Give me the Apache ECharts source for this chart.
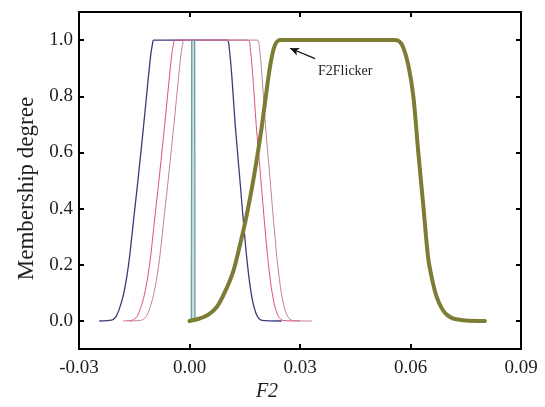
<!DOCTYPE html>
<html>
<head>
<meta charset="utf-8">
<script src="https://cdn.jsdelivr.net/npm/echarts@6/dist/echarts.min.js"></script>
<style>
  html, body { margin: 0; padding: 0; background: #fff; }
  #chart { width: 545px; height: 407px; }
</style>
</head>
<body>
<div id="chart"></div>
<script>
// Membership functions of the F2 feature (x = F2 value, y = membership degree)

// Dark blue set centred on zero
const blueX = [-0.0245, -0.0212, -0.0200, -0.0190, -0.0180, -0.0170, -0.0162, -0.0151, -0.0140, -0.0125, -0.0113, -0.0105, -0.0100, -0.0098,
               0.0102, 0.0108, 0.0115, 0.0124, 0.0137, 0.0146, 0.0155, 0.0165, 0.0175, 0.0185, 0.0197, 0.0250];
const blueY = [0, 0.003, 0.015, 0.045, 0.09, 0.16, 0.236, 0.37, 0.50, 0.69, 0.85, 0.95, 0.99, 1,
               1, 0.97, 0.87, 0.70, 0.50, 0.36, 0.23, 0.12, 0.05, 0.015, 0.002, 0];

// Pink set
const pinkX = [-0.0180, -0.0155, -0.0143, -0.0133, -0.0123, -0.0113, -0.0105, -0.0094, -0.0083, -0.0068, -0.0056, -0.0048, -0.0043, -0.0041,
               0.0159, 0.0165, 0.0172, 0.0181, 0.0194, 0.0203, 0.0212, 0.0222, 0.0232, 0.0242, 0.0254, 0.0300];
const pinkY = [0, 0.003, 0.015, 0.045, 0.09, 0.16, 0.236, 0.37, 0.50, 0.69, 0.85, 0.95, 0.99, 1,
               1, 0.97, 0.87, 0.70, 0.50, 0.36, 0.23, 0.12, 0.05, 0.015, 0.002, 0];

// Mauve set
const mauveX = [-0.0165, -0.0130, -0.0118, -0.0108, -0.0098, -0.0088, -0.0080, -0.0069, -0.0058, -0.0043, -0.0031, -0.0023, -0.0018, -0.0016,
                0.0184, 0.0190, 0.0197, 0.0206, 0.0219, 0.0228, 0.0237, 0.0247, 0.0257, 0.0267, 0.0279, 0.0333];
const mauveY = [0, 0.003, 0.015, 0.045, 0.09, 0.16, 0.236, 0.37, 0.50, 0.69, 0.85, 0.95, 0.99, 1,
                1, 0.97, 0.87, 0.70, 0.50, 0.36, 0.23, 0.12, 0.05, 0.015, 0.002, 0];

// Narrow teal set just right of zero
const tealX = [0.0005, 0.0006, 0.0014, 0.0015];
const tealY = [0, 1, 1, 0];

// F2Flicker set (thick olive line)
const flickerX = [0.0000, 0.0025, 0.0050, 0.0074, 0.0095, 0.0119, 0.0135, 0.0151, 0.0173, 0.0196, 0.0214, 0.0225, 0.0235, 0.0246,
                  0.0558, 0.0570, 0.0580, 0.0594, 0.0608, 0.0621, 0.0635, 0.0648, 0.0660, 0.0671, 0.0685, 0.0698, 0.0712, 0.0725, 0.0750, 0.0802];
const flickerY = [0, 0.008, 0.022, 0.05, 0.10, 0.178, 0.26, 0.35, 0.50, 0.69, 0.866, 0.95, 0.99, 1,
                  1, 0.995, 0.975, 0.912, 0.797, 0.602, 0.407, 0.224, 0.14, 0.086, 0.045, 0.023, 0.011, 0.006, 0.002, 0];

// Axis ticks
const xTicks = [-0.03, 0.00, 0.03, 0.06, 0.09];
const yTicks = [0.0, 0.2, 0.4, 0.6, 0.8, 1.0];

// Annotation
const noteText = 'F2Flicker';
const noteArrowFrom = [0.0341, 0.934];
const noteArrowTo = [0.0273, 0.971];
const noteTextAt = [0.0349, 0.888];

const pairs = (xs, ys) => xs.map((x, i) => [x, ys[i]]);

const FONT = '"Liberation Serif", "Times New Roman", serif';
const INK = '#1e1e1e';

const frameAxis = {
  axisLine: { show: true, onZero: false, lineStyle: { color: '#000', width: 2 } },
  axisTick: { show: true, inside: true, length: 5, lineStyle: { color: '#000', width: 2 } },
  splitLine: { show: false }
};

const chart = echarts.init(document.getElementById('chart'), null, { renderer: 'canvas' });

chart.setOption({
  animation: false,
  backgroundColor: '#fff',
  grid: { left: 79, right: 24, top: 12, bottom: 47, containLabel: false },
  xAxis: [
    Object.assign({}, frameAxis, {
      type: 'value', position: 'bottom',
      min: xTicks[0], max: xTicks[xTicks.length - 1], interval: 0.03,
      axisLabel: {
        show: true, margin: 9, fontFamily: FONT, fontSize: 19, color: INK,
        formatter: v => v.toFixed(2)
      },
      name: 'F2', nameLocation: 'middle', nameGap: 29,
      nameTextStyle: { fontFamily: FONT, fontStyle: 'italic', fontSize: 20, color: INK, padding: [0, 66, 0, 0] }
    }),
    Object.assign({}, frameAxis, {
      type: 'value', position: 'top',
      min: xTicks[0], max: xTicks[xTicks.length - 1], interval: 0.03,
      axisLabel: { show: false }
    })
  ],
  yAxis: [
    Object.assign({}, frameAxis, {
      type: 'value', position: 'left', min: -0.1, max: 1.1,
      axisTick: Object.assign({}, frameAxis.axisTick, { customValues: yTicks }),
      axisLabel: {
        show: true, margin: 6, fontFamily: FONT, fontSize: 19, color: INK,
        customValues: yTicks, formatter: v => v.toFixed(1)
      },
      name: 'Membership degree', nameLocation: 'middle', nameGap: 41, nameRotate: 90,
      nameTextStyle: { fontFamily: FONT, fontSize: 23, color: INK, padding: [0, 16, 0, 0] }
    }),
    Object.assign({}, frameAxis, {
      type: 'value', position: 'right', min: -0.1, max: 1.1,
      axisTick: Object.assign({}, frameAxis.axisTick, { customValues: yTicks }),
      axisLabel: { show: false, customValues: yTicks }
    })
  ],
  series: [
    {
      type: 'line', data: pairs(blueX, blueY), showSymbol: false, smooth: 0.25,
      lineStyle: { color: '#3c3a7a', width: 1.3 }, z: 3
    },
    {
      type: 'line', data: pairs(pinkX, pinkY), showSymbol: false, smooth: 0.25,
      lineStyle: { color: '#dc4f86', width: 1 }, z: 3
    },
    {
      type: 'line', data: pairs(mauveX, mauveY), showSymbol: false, smooth: 0.25,
      lineStyle: { color: '#bf7f9f', width: 1 }, z: 3
    },
    {
      type: 'line', data: pairs(tealX, tealY), showSymbol: false,
      lineStyle: { color: '#6f9d9f', width: 1.3 },
      areaStyle: { color: '#b5d0d0', origin: 'auto' }, z: 3
    },
    {
      type: 'line', data: pairs(flickerX, flickerY), showSymbol: false, smooth: 0.25,
      lineStyle: { color: '#7c7c34', width: 4, cap: 'round', join: 'round' }, z: 4,
      markLine: {
        silent: true, animation: false,
        symbol: ['none', 'arrow'], symbolSize: [6, 9],
        label: { show: false },
        lineStyle: { color: '#111', width: 1.2, type: 'solid' },
        data: [[{ coord: noteArrowFrom }, { coord: noteArrowTo }]]
      },
      markPoint: {
        silent: true, animation: false,
        symbol: 'circle', symbolSize: 0,
        data: [{
          coord: noteTextAt,
          label: {
            show: true, position: 'right', distance: 0, formatter: noteText,
            fontFamily: FONT, fontSize: 14, color: INK
          }
        }]
      }
    }
  ]
});
</script>
</body>
</html>
